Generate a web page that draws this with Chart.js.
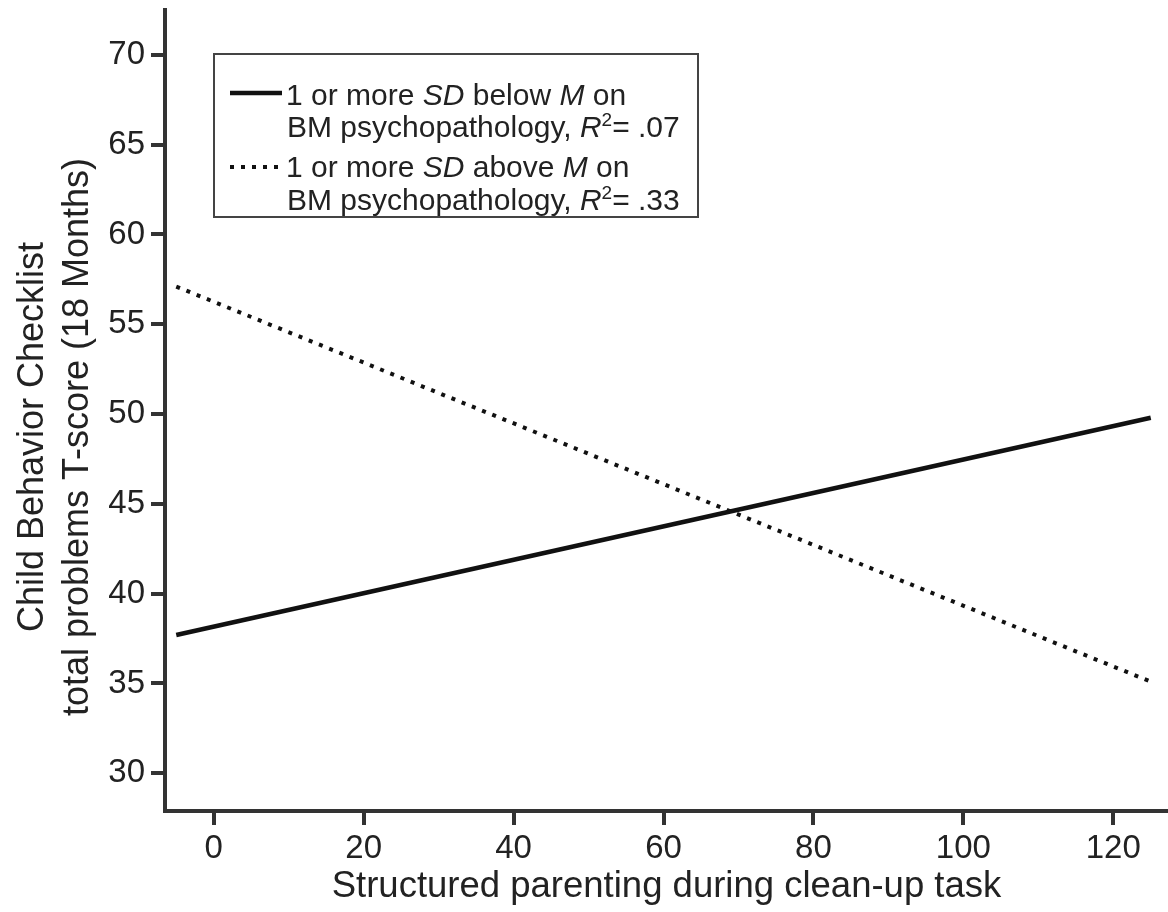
<!DOCTYPE html>
<html>
<head>
<meta charset="utf-8">
<script src="https://cdn.jsdelivr.net/npm/chart.js@4.4.1/dist/chart.umd.min.js"></script>
<style>
  body { margin: 0; background: #fff; }
  #wrap { width: 1168px; height: 912px; }
</style>
</head>
<body>
<div id="wrap"><canvas id="plot"></canvas></div>
<script>
// Simple slopes
const xValues = [-5, 125];
const belowM = [37.7, 49.8];   // 1 or more SD below M
const aboveM = [57.1, 35.1];   // 1 or more SD above M
const xTicks = [0, 20, 40, 60, 80, 100, 120];
const yTicks = [30, 35, 40, 45, 50, 55, 60, 65, 70];
const yTitle = ['Child Behavior Checklist', 'total problems T-score (18 Months)'];
const xTitle = 'Structured parenting during clean-up task';
const legendRows = [
  [[{t: '1 or more '}, {t: 'SD', i: true}, {t: ' below '}, {t: 'M', i: true}, {t: ' on'}],
   [{t: 'BM psychopathology, '}, {t: 'R', i: true}, {t: '2', sup: true}, {t: '= .07'}]],
  [[{t: '1 or more '}, {t: 'SD', i: true}, {t: ' above '}, {t: 'M', i: true}, {t: ' on'}],
   [{t: 'BM psychopathology, '}, {t: 'R', i: true}, {t: '2', sup: true}, {t: '= .33'}]]
];

const FONT = '"Liberation Sans", Arial, Helvetica, sans-serif';
const axisColor = '#333';
const ink = '#111';

function points(ys) {
  return xValues.map((x, i) => ({x: x, y: ys[i]}));
}

// draws a line of mixed italic / superscript text
function drawRich(ctx, segs, x, y, size) {
  segs.forEach(s => {
    const fs = s.sup ? Math.round(size * 0.62) : size;
    ctx.font = (s.i ? 'italic ' : '') + fs + 'px ' + FONT;
    ctx.fillText(s.t, x, s.sup ? y - size * 0.38 : y);
    x += ctx.measureText(s.t).width;
  });
}

const legendBox = {
  id: 'legendBox',
  afterDraw(chart) {
    const ctx = chart.ctx;
    ctx.save();
    ctx.strokeStyle = '#444';
    ctx.lineWidth = 2;
    ctx.strokeRect(214, 54, 484, 163);
    const rows = [{y: 93, base: [105, 137]}, {y: 167, base: [177, 210]}];
    rows.forEach((r, k) => {
      const ds = chart.data.datasets[k];
      ctx.strokeStyle = ds.borderColor;
      ctx.lineWidth = ds.borderWidth;
      ctx.setLineDash(ds.borderDash || []);
      ctx.beginPath();
      ctx.moveTo(230, r.y);
      ctx.lineTo(282, r.y);
      ctx.stroke();
      ctx.setLineDash([]);
      ctx.fillStyle = '#222';
      ctx.textBaseline = 'alphabetic';
      ctx.textAlign = 'left';
      drawRich(ctx, legendRows[k][0], 286, r.base[0], 30);
      drawRich(ctx, legendRows[k][1], 287, r.base[1], 30);
    });
    ctx.restore();
  }
};

// y title sits a little below the axis centre in the original
const yTitlePlugin = {
  id: 'yTitle',
  afterDraw(chart) {
    const ctx = chart.ctx;
    ctx.save();
    ctx.fillStyle = '#222';
    ctx.font = '36px ' + FONT;
    ctx.textAlign = 'center';
    ctx.textBaseline = 'alphabetic';
    ctx.translate(43, 437);
    ctx.rotate(-Math.PI / 2);
    ctx.fillText(yTitle[0], 0, 0);
    ctx.fillText(yTitle[1], 0, 45);
    ctx.restore();
  }
};

new Chart(document.getElementById('plot'), {
  type: 'line',
  data: {
    datasets: [
      {
        label: 'below',
        data: points(belowM),
        borderColor: ink,
        borderWidth: 4.5,
        pointRadius: 0,
        borderCapStyle: 'butt'
      },
      {
        label: 'above',
        data: points(aboveM),
        borderColor: ink,
        borderWidth: 4,
        borderDash: [4, 7],
        pointRadius: 0,
        borderCapStyle: 'butt'
      }
    ]
  },
  options: {
    responsive: true,
    maintainAspectRatio: false,
    animation: false,
    layout: { padding: { top: 10, right: 0, left: 0, bottom: 0 } },
    plugins: {
      legend: { display: false },
      tooltip: { enabled: false }
    },
    scales: {
      x: {
        type: 'linear',
        min: -6.5,
        max: 127.3,
        afterFit: s => { s.height = 101; s.paddingLeft = 0; s.paddingRight = 0; },
        afterBuildTicks: s => { s.ticks = xTicks.map(v => ({value: v})); },
        grid: { drawOnChartArea: false, drawTicks: true, tickLength: 14, lineWidth: 4, color: axisColor },
        border: { display: true, width: 4, color: axisColor },
        ticks: { color: '#222', font: { family: FONT, size: 33 }, padding: 4, maxRotation: 0 },
        title: { display: true, text: xTitle, color: '#222', font: { family: FONT, size: 36.5 }, padding: { top: 0, bottom: 3 } }
      },
      y: {
        type: 'linear',
        min: 27.9,
        max: 72.5,
        afterFit: s => { s.width = 165; s.paddingTop = 0; s.paddingBottom = 0; },
        afterBuildTicks: s => { s.ticks = yTicks.map(v => ({value: v})); },
        grid: { drawOnChartArea: false, drawTicks: true, tickLength: 14, lineWidth: 4, color: axisColor },
        border: { display: true, width: 4, color: axisColor },
        ticks: { color: '#222', font: { family: FONT, size: 33 }, padding: 6 }
      }
    }
  },
  plugins: [legendBox, yTitlePlugin]
});
</script>
</body>
</html>
